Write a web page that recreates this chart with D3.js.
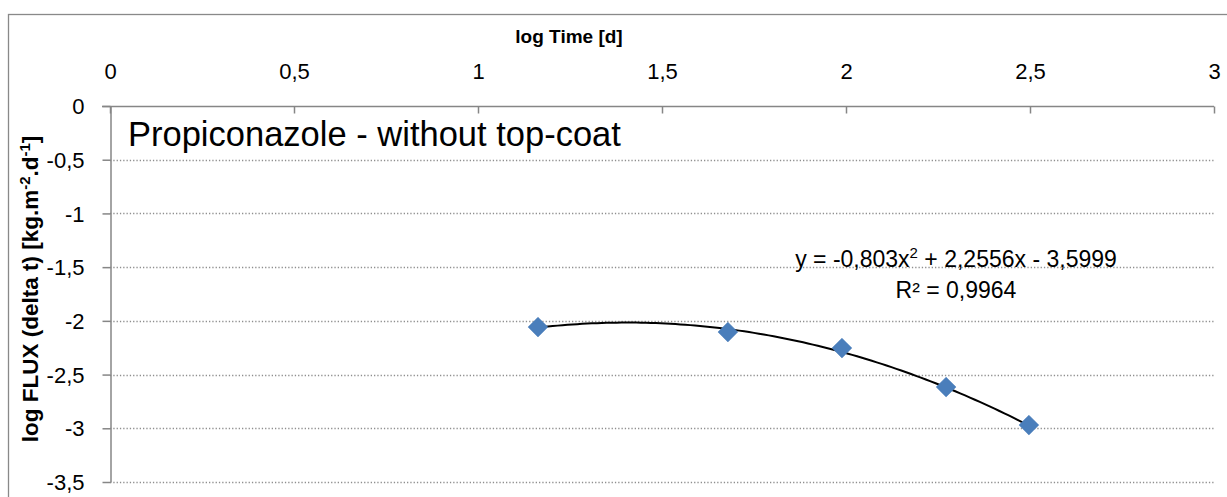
<!DOCTYPE html>
<html>
<head>
<meta charset="utf-8">
<script src="https://cdn.jsdelivr.net/npm/d3@7"></script>
<style>
  body { margin: 0; background: #fff; }
  svg { display: block; font-family: "Liberation Sans", Arial, sans-serif; }
</style>
</head>
<body>
<div id="chart"></div>
<script>
// data
var logTime = [1.163, 1.679, 1.989, 2.272, 2.497];
var logFlux = [-2.058, -2.104, -2.253, -2.616, -2.970];
var xTicks = [0, 0.5, 1, 1.5, 2, 2.5, 3];
var yTicks = [0, -0.5, -1, -1.5, -2, -2.5, -3, -3.5];
// polynomial trendline (as printed on the chart): c0 + c1 x + c2 x^2
var trendCoef = [-3.5999, 2.2556, -0.803];
var trendLabel = "y = -0,803x";
var r2Label = "R² = 0,9964";

var W = 1227, H = 497;
var margin = { left: 110, top: 106, right: 13, bottom: 15 };

var locale = d3.formatLocale({ decimal: ",", thousands: ".", grouping: [3], currency: ["", ""], minus: "-" });
var fmt = locale.format("~g");

var svg = d3.select("#chart").append("svg")
  .attr("width", W).attr("height", H);

// outer chart border
svg.append("rect")
  .attr("x", 8.5).attr("y", 14.5)
  .attr("width", W).attr("height", H)
  .attr("fill", "none").attr("stroke", "#898989").attr("stroke-width", 1.3);

var x = d3.scaleLinear().domain([0, 3]).range([margin.left, 1214]);
var y = d3.scaleLinear().domain([0, -3.5]).range([margin.top, 482]);

// dotted gridlines
svg.append("g").selectAll("line")
  .data(yTicks.filter(d => d !== 0))
  .enter().append("line")
  .attr("x1", x(0)).attr("x2", x(3))
  .attr("y1", d => Math.round(y(d)) + 0.5).attr("y2", d => Math.round(y(d)) + 0.5)
  .attr("stroke", "#8f8f8f").attr("stroke-width", 1.3)
  .attr("stroke-dasharray", "1.3,2");

// top x axis: ticks pointing down into the plot
var xAxis = d3.axisBottom(x).tickValues(xTicks).tickFormat(fmt).tickSize(7).tickSizeOuter(0);
var gx = svg.append("g").attr("transform", "translate(0," + (margin.top + 0.5) + ")").call(xAxis);
gx.select(".domain").attr("stroke", "#868686").attr("stroke-width", 1.5)
  .attr("d", "M" + (x(0) - 8) + ",0H" + x(3));
gx.selectAll(".tick line").attr("stroke", "#868686").attr("stroke-width", 1.5);
gx.selectAll(".tick text").attr("y", -28).attr("dy", 0)
  .attr("font-size", 22).attr("fill", "#000")
  .attr("font-family", "Liberation Sans, Arial, sans-serif");

// left y axis
var yAxis = d3.axisLeft(y).tickValues(yTicks).tickFormat(fmt).tickSize(8).tickSizeOuter(0);
var gy = svg.append("g").attr("transform", "translate(" + (margin.left + 0.5) + ",0)").call(yAxis);
gy.select(".domain").attr("stroke", "#868686").attr("stroke-width", 1.5);
gy.selectAll(".tick line").attr("stroke", "#868686").attr("stroke-width", 1.5);
gy.selectAll(".tick text").attr("x", -26).attr("dy", "0.35em")
  .attr("font-size", 22).attr("fill", "#000")
  .attr("font-family", "Liberation Sans, Arial, sans-serif");

// axis titles
svg.append("text")
  .attr("x", 569).attr("y", 43)
  .attr("text-anchor", "middle")
  .attr("font-weight", "bold").attr("font-size", 19)
  .text("log Time [d]");

var yt = svg.append("text")
  .attr("transform", "translate(38,289) rotate(-90)")
  .attr("text-anchor", "middle")
  .attr("font-weight", "bold").attr("font-size", 22.5);
yt.append("tspan").text("log FLUX (delta t) [kg.m");
yt.append("tspan").attr("font-size", 15).attr("dy", -8).text("-2");
yt.append("tspan").attr("dy", 8).text(".d");
yt.append("tspan").attr("font-size", 15).attr("dy", -8).text("-1");
yt.append("tspan").attr("dy", 8).text("]");

// chart label
svg.append("text")
  .attr("x", 128).attr("y", 146)
  .attr("font-size", 34.5)
  .text("Propiconazole - without top-coat");

// trendline
var poly = t => trendCoef[0] + trendCoef[1] * t + trendCoef[2] * t * t;
var tx = d3.range(0, 101).map(i => logTime[0] + (logTime[logTime.length - 1] - logTime[0]) * i / 100);
svg.append("path")
  .datum(tx)
  .attr("fill", "none").attr("stroke", "#000").attr("stroke-width", 2)
  .attr("d", d3.line().x(d => x(d)).y(d => y(poly(d))));

// markers
svg.append("g").selectAll("rect")
  .data(logTime)
  .enter().append("rect")
  .attr("x", -7).attr("y", -7).attr("width", 14).attr("height", 14)
  .attr("transform", (d, i) => "translate(" + x(d) + "," + y(logFlux[i]) + ") rotate(45)")
  .attr("fill", "#4a7ebb").attr("stroke", "#4a7ebb").attr("stroke-width", 0.5);

// trendline labels
var eq = svg.append("text")
  .attr("x", 956).attr("y", 267)
  .attr("text-anchor", "middle").attr("font-size", 23);
eq.append("tspan").text(trendLabel);
eq.append("tspan").attr("font-size", 15).attr("dy", -9).text("2");
eq.append("tspan").attr("dy", 9).text(" + 2,2556x - 3,5999");

svg.append("text")
  .attr("x", 956).attr("y", 298)
  .attr("text-anchor", "middle").attr("font-size", 23)
  .text(r2Label);
</script>
</body>
</html>
